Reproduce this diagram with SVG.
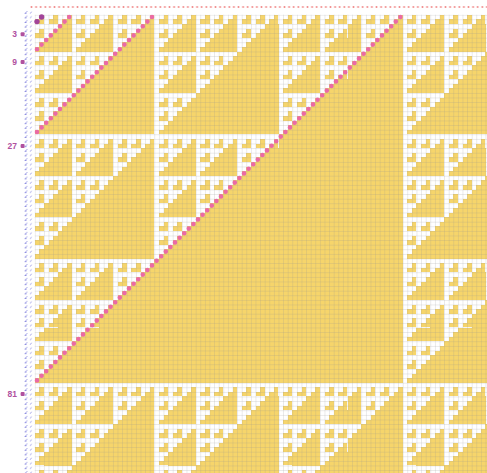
<svg xmlns="http://www.w3.org/2000/svg" width="487" height="473" viewBox="0 0 487 473">
<style>
.lbl{font-family:"Liberation Sans",Arial,sans-serif;font-size:8.5px;font-weight:bold;fill:#b0519f;text-anchor:end}
.diag{fill:none;stroke:#ea6aa5;stroke-width:4.6;stroke-linecap:round;stroke-dasharray:0 6.5054}
</style>
<defs>
<g id="y1"><rect x="2" y="1" width="1" height="2"/><rect x="1" y="2" width="1" height="1"/></g>
<g id="y2"><use href="#y1"/><use href="#y1" x="3"/><use href="#y1" x="6"/><use href="#y1" y="3"/><use href="#y1" x="3" y="3"/><use href="#y1" y="6"/><rect x="6" y="3" width="3" height="6"/><rect x="3" y="6" width="3" height="3"/></g>
<g id="y3"><use href="#y2"/><use href="#y2" x="9"/><use href="#y2" x="18"/><use href="#y2" y="9"/><use href="#y2" x="9" y="9"/><use href="#y2" y="18"/><rect x="18" y="9" width="9" height="18"/><rect x="9" y="18" width="9" height="9"/></g>
<g id="y4"><use href="#y3"/><use href="#y3" x="27"/><use href="#y3" x="54"/><use href="#y3" y="27"/><use href="#y3" x="27" y="27"/><use href="#y3" y="54"/><rect x="54" y="27" width="27" height="54"/><rect x="27" y="54" width="27" height="27"/></g>
<pattern id="grid" patternUnits="userSpaceOnUse" x="34.7" y="14.7" width="4.6" height="4.6">
<rect width="0.6" height="4.6" fill="#8c8c8c" fill-opacity="0.3"/><rect width="4.6" height="0.6" fill="#8c8c8c" fill-opacity="0.3"/>
</pattern>
<pattern id="topmarks" patternUnits="userSpaceOnUse" x="29.2" y="0" width="4.6" height="14">
<circle cx="2.3" cy="7" r="1" fill="#f08a8a"/>
</pattern>
<pattern id="leftmarks" patternUnits="userSpaceOnUse" x="0" y="10.1" width="40" height="4.6">
<path d="M24.6 3.6 L27.4 1 M25 3.2 L26.6 3.2 M30.2 3.4 L31.6 1.6" stroke="#5a5ad2" stroke-width="0.7" fill="none" stroke-opacity="0.8"/>
</pattern>
</defs>
<rect width="487" height="473" fill="#ffffff"/>
<g id="cells" fill="#f6d56b" transform="translate(30.1 10.1) scale(4.6)" shape-rendering="crispEdges">
<use href="#y4"/><use href="#y4" x="81"/><use href="#y4" y="81"/><use href="#y4" x="81" y="81"/>
</g>
<rect id="gridlines" x="34.7" y="14.7" width="452.3" height="458.3" fill="url(#grid)"/>
<rect id="colmarks" x="29" y="2" width="458" height="10" fill="url(#topmarks)"/>
<rect id="rowmarks" x="22" y="10.1" width="12.5" height="463" fill="url(#leftmarks)"/>
<g id="diagonals">
<path class="diag" d="M37 380.4 L401 16.4"/>
<path class="diag" d="M37 132 L152.6 16.4"/>
<path class="diag" d="M37 49.2 L69.8 16.4"/>
<circle cx="37" cy="21.6" r="2.7" fill="#a2449a"/>
<circle cx="41.6" cy="17" r="2.7" fill="#a2449a"/>
</g>
<g id="labels">
<text class="lbl" x="17" y="37.3">3</text><rect x="20.6" y="32.3" width="4" height="4" rx="1" fill="#b0519f"/>
<text class="lbl" x="17" y="65">9</text><rect x="20.6" y="60" width="4" height="4" rx="1" fill="#b0519f"/>
<text class="lbl" x="17" y="149">27</text><rect x="20.6" y="144" width="4" height="4" rx="1" fill="#b0519f"/>
<text class="lbl" x="17" y="397">81</text><rect x="20.6" y="392" width="4" height="4" rx="1" fill="#b0519f"/>
</g>
</svg>
